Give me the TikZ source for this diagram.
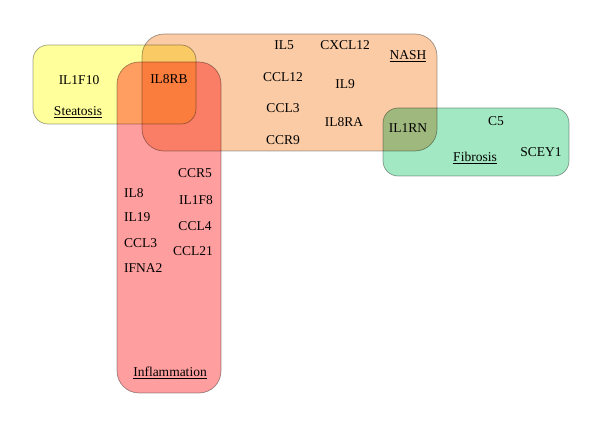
\documentclass[tikz,border=0pt]{standalone}
\usepackage{fontspec}
\setmainfont{Liberation Serif}
\definecolor{yelfill}{RGB}{255,255,155}
\definecolor{orafill}{RGB}{250,203,165}
\definecolor{redfill}{RGB}{255,158,158}
\definecolor{grnfill}{RGB}{162,232,194}
\definecolor{edgegray}{RGB}{120,120,120}
\tikzset{
  setbox/.style={draw=edgegray, line width=0.7pt, draw opacity=0.7},
  gene/.style={font=\fontsize{13.5}{15}\selectfont, inner sep=0pt, text=black},
  setlabel/.style={gene},
}
\newcommand{\ulbl}[1]{\underline{#1}}
\begin{document}
\begin{tikzpicture}[x=1pt,y=-1pt]
\useasboundingbox (0,0) rectangle (600,427);
% boxes
\begin{scope}[blend mode=multiply]
\draw[setbox, fill=yelfill, rounded corners=15pt] (33,45) rectangle (196,124);
\draw[setbox, fill=orafill, rounded corners=22pt] (142,34) rectangle (437,151);
\draw[setbox, fill=redfill, rounded corners=22pt] (117,62) rectangle (221,393);
\draw[setbox, fill=grnfill, rounded corners=15pt] (383,108) rectangle (569,176);
\end{scope}
% Steatosis
\node[gene] (il1f10) at (79,80) {IL1F10};
\node[setlabel] (steat) at (78,112) {\ulbl{Steatosis}};
\node[gene] (il8rb) at (169,79) {IL8RB};
% NASH
\node[gene] (il5) at (284,45) {IL5};
\node[gene] (cxcl12) at (345,45) {CXCL12};
\node[setlabel] (nash) at (408,56) {\ulbl{NASH}};
\node[gene] (ccl12) at (283,77) {CCL12};
\node[gene] (il9) at (345,84) {IL9};
\node[gene] (ccl3a) at (283,108) {CCL3};
\node[gene] (il8ra) at (344,122) {IL8RA};
\node[gene] (ccr9) at (283,140) {CCR9};
\node[gene] (il1rn) at (408,128) {IL1RN};
% Fibrosis
\node[gene] (c5) at (496,121) {C5};
\node[gene] (scey1) at (541,152) {SCEY1};
\node[setlabel] (fib) at (475,158) {\ulbl{Fibrosis}};
% Inflammation
\node[gene, anchor=west] (il8) at (124,193) {IL8};
\node[gene, anchor=west] (il19) at (124,217) {IL19};
\node[gene, anchor=west] (ccl3b) at (124,243) {CCL3};
\node[gene, anchor=west] (ifna2) at (124,268) {IFNA2};
\node[gene] (ccr5) at (195,173) {CCR5};
\node[gene] (il1f8) at (196,200) {IL1F8};
\node[gene] (ccl4) at (195,226) {CCL4};
\node[gene] (ccl21) at (193,251) {CCL21};
\node[setlabel] (infl) at (170,373) {\ulbl{Inflammation}};
\end{tikzpicture}
\end{document}
